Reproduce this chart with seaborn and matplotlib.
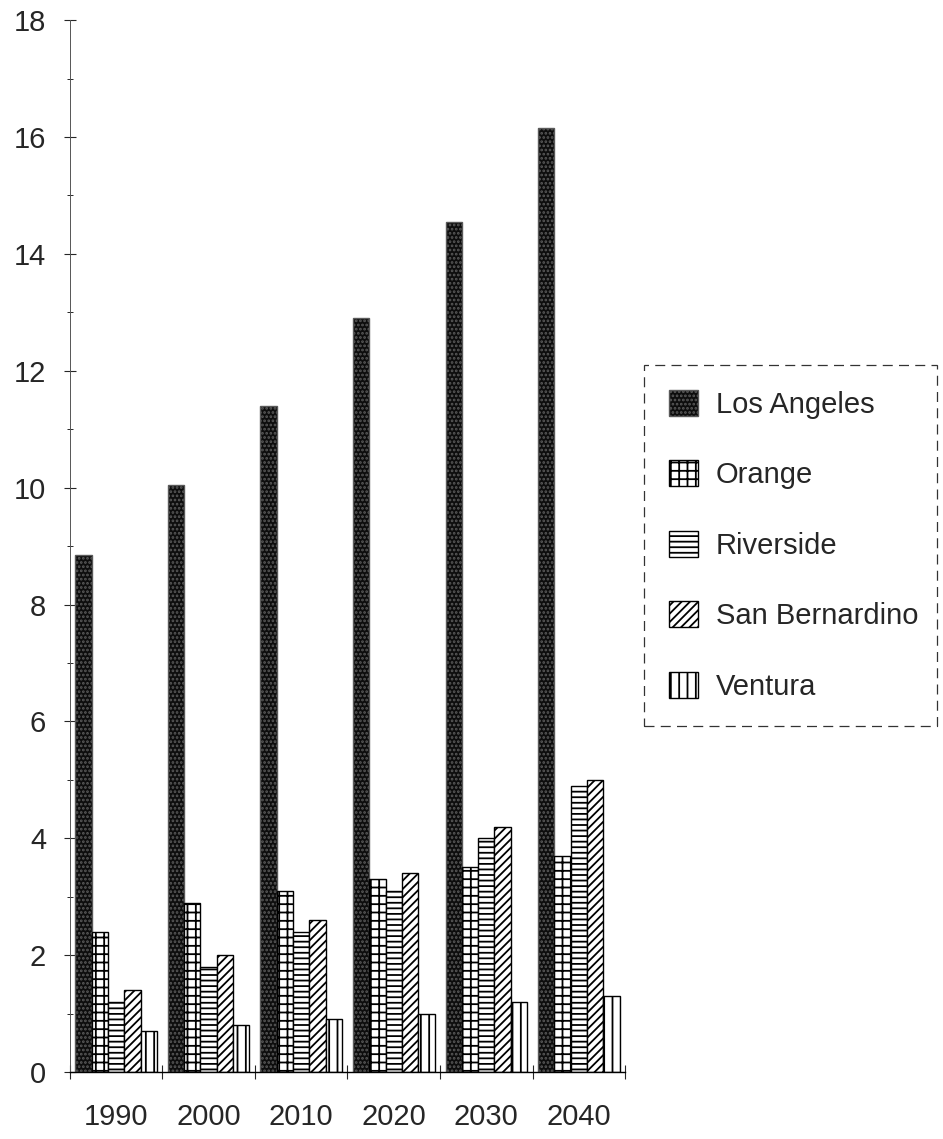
import matplotlib
matplotlib.use("Agg")
import matplotlib.pyplot as plt
import seaborn as sns
import pandas as pd
from matplotlib.patches import Patch
from matplotlib.ticker import MultipleLocator, FixedLocator

# Projected population (millions) by county
years = ["1990", "2000", "2010", "2020", "2030", "2040"]
counties = ["Los Angeles", "Orange", "Riverside", "San Bernardino", "Ventura"]
los_angeles = [8.85, 10.05, 11.4, 12.9, 14.55, 16.15]
orange = [2.4, 2.9, 3.1, 3.3, 3.5, 3.7]
riverside = [1.2, 1.8, 2.4, 3.1, 4.0, 4.9]
san_bernardino = [1.4, 2.0, 2.6, 3.4, 4.2, 5.0]
ventura = [0.7, 0.8, 0.9, 1.0, 1.2, 1.3]
yticks = [0, 2, 4, 6, 8, 10, 12, 14, 16, 18]

series = [los_angeles, orange, riverside, san_bernardino, ventura]
df = pd.DataFrame(
    [(y, c, v) for c, vals in zip(counties, series) for y, v in zip(years, vals)],
    columns=["year", "county", "pop"],
)

sns.set_style("white")
plt.rcParams["font.family"] = ["Liberation Sans", "DejaVu Sans"]
plt.rcParams["hatch.linewidth"] = 1.3

fig = plt.figure(figsize=(9.43, 11.39), dpi=100)
ax = fig.add_axes([0.074, 0.0588, 0.589, 0.9235])

sns.barplot(
    data=df, x="year", y="pop", hue="county", order=years, hue_order=counties,
    palette=["white"] * 5, width=0.88, edgecolor="black", linewidth=1.0,
    saturation=1, legend=False, ax=ax,
)

styles = [
    dict(facecolor="#0d0d0d", edgecolor="#5a5a5a", hatch="...."),
    dict(facecolor="white", edgecolor="black", hatch="++"),
    dict(facecolor="white", edgecolor="black", hatch="---"),
    dict(facecolor="white", edgecolor="black", hatch="////"),
    dict(facecolor="white", edgecolor="black", hatch="||"),
]
for cont, st in zip(ax.containers, styles):
    for bar in cont:
        bar.set_facecolor(st["facecolor"])
        bar.set_edgecolor(st["edgecolor"])
        bar.set_hatch(st["hatch"])

ax.set_xlim(-0.5, 5.5)
ax.set_ylim(0, 18)
ax.set_xlabel("")
ax.set_ylabel("")

for s in ["top", "right"]:
    ax.spines[s].set_visible(False)
ax.spines["left"].set_linewidth(0.7)
ax.spines["left"].set_color("#555555")
ax.spines["bottom"].set_linewidth(1.0)
ax.spines["bottom"].set_color("black")

ax.yaxis.set_major_locator(FixedLocator(yticks))
ax.yaxis.set_minor_locator(MultipleLocator(1))
ax.tick_params(axis="y", which="major", direction="inout", length=8, width=0.8,
               labelsize=21, pad=13, left=True)
ax.tick_params(axis="y", which="minor", direction="inout", length=5, width=0.7, left=True)
ax.set_yticklabels([str(t) for t in yticks])

ax.xaxis.set_minor_locator(FixedLocator([i - 0.5 for i in range(7)]))
ax.tick_params(axis="x", which="major", length=0, labelsize=21, pad=22)
ax.tick_params(axis="x", which="minor", direction="inout", length=10, width=0.8, bottom=True)

handles = [Patch(**st, linewidth=1.0) for st in styles]
leg = fig.legend(
    handles, counties, loc="upper left",
    bbox_to_anchor=(0.683, 0.6795, 0.311, 0.0), mode="expand",
    fontsize=21, frameon=True, fancybox=False, handlelength=1.0,
    handleheight=1.0, handletextpad=0.6, labelspacing=1.42, borderpad=0.85,
    borderaxespad=0,
)
frame = leg.get_frame()
frame.set_edgecolor("black")
frame.set_linewidth(0.9)
frame.set_linestyle((0, (8, 5)))

fig.savefig("out.png", dpi=100)
